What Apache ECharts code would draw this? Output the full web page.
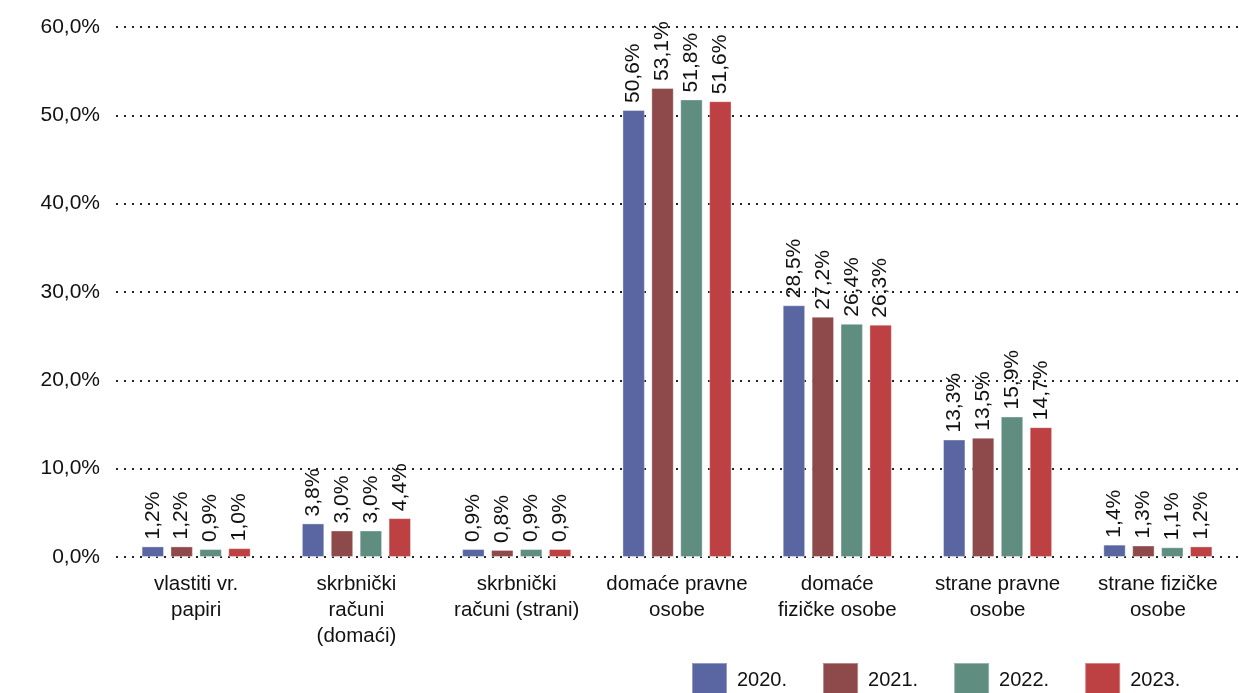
<!DOCTYPE html>
<html>
<head>
<meta charset="utf-8">
<script src="https://cdn.jsdelivr.net/npm/echarts@6/dist/echarts.min.js"></script>
<style>
html,body{margin:0;padding:0;background:#fff;}
#chart{width:1239px;height:693px;}
</style>
</head>
<body>
<div id="chart"></div>
<script>
const categories = [
  "vlastiti vr.\npapiri",
  "skrbnički\nračuni\n(domaći)",
  "skrbnički\nračuni (strani)",
  "domaće pravne\nosobe",
  "domaće\nfizičke osobe",
  "strane pravne\nosobe",
  "strane fizičke\nosobe"
];
const seriesNames = ["2020.", "2021.", "2022.", "2023."];
const values2020 = [1.2, 3.8, 0.9, 50.6, 28.5, 13.3, 1.4];
const values2021 = [1.2, 3.0, 0.8, 53.1, 27.2, 13.5, 1.3];
const values2022 = [0.9, 3.0, 0.9, 51.8, 26.4, 15.9, 1.1];
const values2023 = [1.0, 4.4, 0.9, 51.6, 26.3, 14.7, 1.2];
const yTicks = [0, 10, 20, 30, 40, 50, 60];

const colors = ["#5a66a1", "#8e4a4a", "#5f8e81", "#bd4142"];
const allValues = [values2020, values2021, values2022, values2023];
const FONT = "'Liberation Sans', Arial, Helvetica, sans-serif";
const fmt = v => v.toFixed(1).replace('.', ',') + '%';

const chart = echarts.init(document.getElementById('chart'), null, {renderer: 'canvas'});
chart.setOption({
  animation: false,
  textStyle: {fontFamily: FONT},
  grid: {left: 116, right: 1, top: 27, bottom: 136, containLabel: false},
  legend: {
    left: 691, top: 662, padding: 0,
    itemWidth: 35, itemHeight: 34, itemGap: 35,
    icon: 'rect',
    data: seriesNames,
    textStyle: {fontFamily: FONT, fontSize: 20, color: '#111', padding: [0, 0, 0, 5]}
  },
  xAxis: {
    type: 'category',
    data: categories,
    axisLine: {show: false},
    axisTick: {show: false},
    axisLabel: {interval: 0, margin: 14, fontSize: 20.5, lineHeight: 26, color: '#111', fontFamily: FONT}
  },
  yAxis: {
    type: 'value',
    min: yTicks[0], max: yTicks[yTicks.length - 1], interval: 10,
    axisLine: {show: false},
    axisTick: {show: false},
    axisLabel: {margin: 16, fontSize: 21, color: '#111', fontFamily: FONT, formatter: v => fmt(v)},
    splitLine: {lineStyle: {color: '#222', width: 2, type: [2, 6]}}
  },
  series: seriesNames.map((name, i) => ({
    name: name,
    type: 'bar',
    data: allValues[i],
    barWidth: 22.4,
    barGap: '29%',
    itemStyle: {color: colors[i], borderColor: 'rgba(255,255,255,0.35)', borderWidth: 1},
    label: {
      show: true,
      position: 'top',
      rotate: 90,
      align: 'left',
      verticalAlign: 'middle',
      distance: 7,
      fontSize: 21,
      color: '#111',
      fontFamily: FONT,
      formatter: p => fmt(p.value)
    }
  }))
});
</script>
</body>
</html>
